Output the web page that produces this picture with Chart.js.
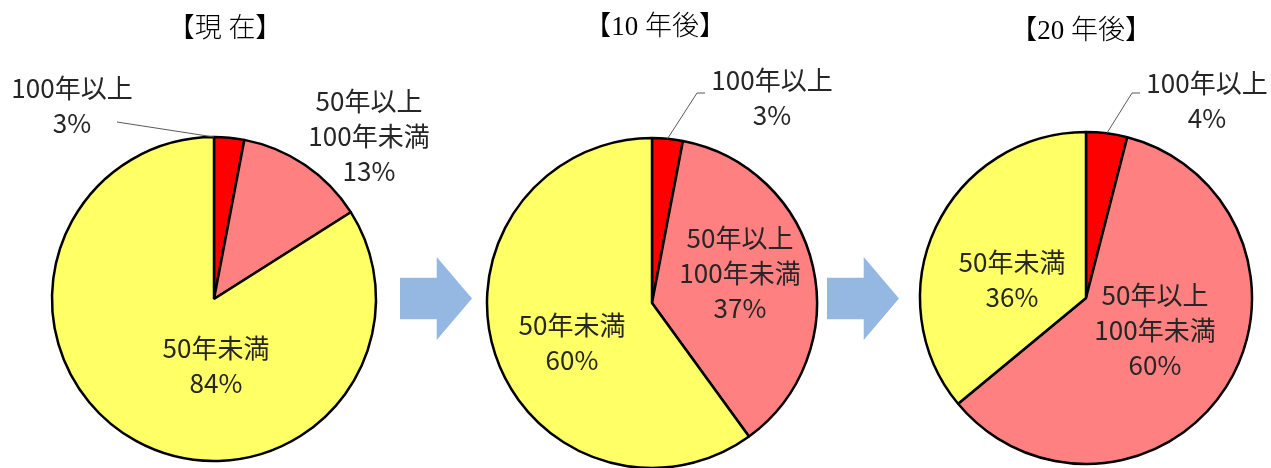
<!DOCTYPE html>
<html>
<head>
<meta charset="utf-8">
<script src="https://cdn.jsdelivr.net/npm/chart.js@4"></script>
<style>
  body { margin: 0; background: #fff; }
  #wrap { position: relative; width: 1271px; height: 468px; overflow: hidden; }
  canvas { position: absolute; left: 0; top: 0; }
  .arrow { position: absolute; background: #95b8e2;
    clip-path: polygon(0 25%, 51% 25%, 51% 0, 100% 50%, 51% 100%, 51% 75%, 0 75%); }
</style>
</head>
<body>
<div id="wrap">
  <div class="arrow" style="left:400px;top:257px;width:72px;height:83px"></div>
  <div class="arrow" style="left:827px;top:257px;width:72px;height:83px"></div>
  <canvas id="pieNow" width="1271" height="468"></canvas>
  <canvas id="pie10" width="1271" height="468"></canvas>
  <canvas id="pie20" width="1271" height="468"></canvas>
</div>
<script>
// data
var categories = ['100年以上', ['50年以上', '100年未満'], '50年未満'];
var titles = ['【現 在】', '【10 年後】', '【20 年後】'];
var valuesNow = [3, 13, 84];
var values10 = [3, 37, 60];
var values20 = [4, 60, 36];
var colors = ['#ff0000', '#ff8080', '#ffff66'];

var W = 1271, H = 468;
var titleFont = "300 27px 'Liberation Serif', 'Noto Sans CJK JP'";
var labelFont = "26px 'Noto Sans CJK JP'";

// where each pie sits and where its texts go
var pies = [
  { id: 'pieNow', title: titles[0], values: valuesNow, cx: 214, cy: 299, r: 162,
    tx: 225, ty: 30,
    labels: [{x: 72, y: 88}, {x: 369, y: 101}, {x: 216, y: 348}],
    lead: [[117, 122]], leadAt: 0 },
  { id: 'pie10', title: titles[1], values: values10, cx: 652, cy: 303, r: 165,
    tx: 655, ty: 28,
    labels: [{x: 772, y: 80}, {x: 740, y: 238}, {x: 572, y: 325}],
    lead: [[705, 93], [697, 93]], leadAt: 0.5 },
  { id: 'pie20', title: titles[2], values: values20, cx: 1086, cy: 298, r: 166,
    tx: 1081, ty: 32,
    labels: [{x: 1207, y: 83}, {x: 1155, y: 295}, {x: 1012, y: 262}],
    lead: [[1140, 93], [1132, 93]], leadAt: 0.5 }
];

function textPlugin(cfg) {
  return {
    id: 'texts',
    afterDraw: function(chart) {
      var ctx = chart.ctx;
      var arc = chart.getDatasetMeta(0).data[0];
      var p = arc.getProps(['x', 'y', 'startAngle', 'endAngle', 'outerRadius'], true);
      var a = p.startAngle + (p.endAngle - p.startAngle) * cfg.leadAt;
      ctx.save();
      // leader line to the small slice
      ctx.beginPath();
      ctx.moveTo(cfg.lead[0][0], cfg.lead[0][1]);
      for (var i = 1; i < cfg.lead.length; i++) ctx.lineTo(cfg.lead[i][0], cfg.lead[i][1]);
      ctx.lineTo(p.x + Math.cos(a) * p.outerRadius, p.y + Math.sin(a) * p.outerRadius);
      ctx.strokeStyle = '#595959';
      ctx.lineWidth = 1;
      ctx.stroke();

      ctx.textAlign = 'center';
      ctx.textBaseline = 'middle';
      ctx.fillStyle = '#000';
      ctx.font = titleFont;
      ctx.fillText(cfg.title, cfg.tx, cfg.ty);

      ctx.font = labelFont;
      ctx.fillStyle = '#262626';
      var data = chart.data.datasets[0].data;
      chart.data.labels.forEach(function(lab, i) {
        var lines = [].concat(lab, data[i] + '%');
        var pos = cfg.labels[i];
        lines.forEach(function(t, k) {
          ctx.fillText(t, pos.x, pos.y + k * 35);
        });
      });
      ctx.restore();
    }
  };
}

pies.forEach(function(cfg) {
  var half = 150;
  new Chart(document.getElementById(cfg.id), {
    type: 'pie',
    data: {
      labels: categories,
      datasets: [{
        data: cfg.values,
        backgroundColor: colors,
        borderColor: '#000',
        borderWidth: 2.5,
        clip: false
      }]
    },
    options: {
      responsive: false,
      animation: false,
      events: [],
      radius: cfg.r,
      layout: {
        padding: {
          left: cfg.cx - half,
          right: W - cfg.cx - half,
          top: cfg.cy - half,
          bottom: H - cfg.cy - half
        }
      },
      plugins: {
        legend: { display: false },
        tooltip: { enabled: false }
      }
    },
    plugins: [textPlugin(cfg)]
  });
});
</script>
</body>
</html>
